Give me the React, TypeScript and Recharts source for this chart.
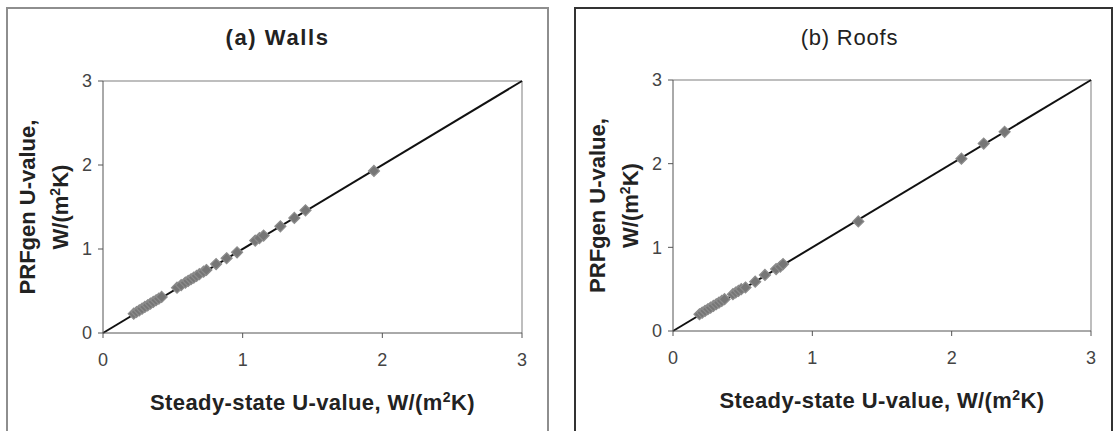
import React from 'react';
import {
  ScatterChart,
  Scatter,
  XAxis,
  YAxis,
  ReferenceLine,
  Label,
} from 'recharts';

// steady-state U-value (x) vs PRFgen U-value (y), W/(m2K)
const wallsSteady = [
  0.22, 0.24, 0.26, 0.28, 0.3, 0.32, 0.34, 0.36, 0.38, 0.4, 0.42, 0.53, 0.56,
  0.59, 0.61, 0.63, 0.65, 0.67, 0.69, 0.72, 0.74, 0.81, 0.885, 0.96, 1.09,
  1.12, 1.15, 1.27, 1.37, 1.45, 1.94,
];
const wallsPrf = [
  0.23, 0.25, 0.27, 0.29, 0.31, 0.33, 0.35, 0.37, 0.39, 0.41, 0.43, 0.54, 0.57,
  0.6, 0.62, 0.64, 0.66, 0.68, 0.7, 0.73, 0.75, 0.82, 0.89, 0.96, 1.1, 1.13,
  1.16, 1.27, 1.37, 1.46, 1.93,
];
const roofsSteady = [
  0.19, 0.21, 0.23, 0.25, 0.27, 0.29, 0.31, 0.33, 0.35, 0.37, 0.43, 0.45, 0.47,
  0.49, 0.52, 0.59, 0.66, 0.74, 0.77, 0.79, 1.33, 2.07, 2.23, 2.38,
];
const roofsPrf = [
  0.2, 0.22, 0.24, 0.26, 0.28, 0.3, 0.32, 0.34, 0.36, 0.38, 0.44, 0.46, 0.48,
  0.5, 0.52, 0.59, 0.67, 0.74, 0.77, 0.8, 1.31, 2.06, 2.24, 2.38,
];
const axisTicks = [0, 1, 2, 3];
const oneToOne = [0, 3];
const panelTitles = ['(a) Walls', '(b) Roofs'];

const toPoints = (xs: number[], ys: number[]) =>
  xs.map((x, i) => ({ x, y: ys[i] }));

const Diamond = (props: any) => {
  const { cx, cy } = props;
  const r = 5.5;
  return (
    <polygon
      points={`${cx},${cy - r} ${cx + r},${cy} ${cx},${cy + r} ${cx - r},${cy}`}
      fill="#767676"
      stroke="#8c8c8c"
      strokeWidth={1.2}
    />
  );
};

const XTitle = (props: any) => {
  const vb = props.viewBox;
  return (
    <text
      x={vb.x + vb.width / 2}
      y={vb.y + 77}
      textAnchor="middle"
      fontSize={22}
      fontWeight="bold"
      letterSpacing={0.4}
      fill="#222"
    >
      Steady-state U-value, W/(m
      <tspan dy={-8} fontSize={14}>
        2
      </tspan>
      <tspan dy={8}>K)</tspan>
    </text>
  );
};

const YTitle = (props: any) => {
  const vb = props.viewBox;
  const axisX = vb.x + vb.width;
  const cy = vb.y + vb.height / 2;
  return (
    <g fill="#222" fontSize={22} fontWeight="bold">
      <text
        transform={`translate(${axisX - 68},${cy}) rotate(-90)`}
        textAnchor="middle"
      >
        PRFgen U-value,
      </text>
      <text
        transform={`translate(${axisX - 35},${cy}) rotate(-90)`}
        textAnchor="middle"
      >
        W/(m
        <tspan dy={-8} fontSize={14}>
          2
        </tspan>
        <tspan dy={8}>K)</tspan>
      </text>
    </g>
  );
};

interface PanelProps {
  data: { x: number; y: number }[];
  left: number;
  width: number;
  margin: { top: number; right: number; bottom: number; left: number };
}

const Panel = ({ data, left, width, margin }: PanelProps) => (
  <div style={{ position: 'absolute', left, top: 0 }}>
    <ScatterChart width={width} height={431} margin={margin}>
      <XAxis
        type="number"
        dataKey="x"
        domain={[0, 3]}
        ticks={axisTicks}
        height={30}
        tickSize={5}
        tickMargin={15}
        stroke="#555"
        tick={{ fill: '#444', fontSize: 18 }}
      >
        <Label content={(p: any) => <XTitle viewBox={p.viewBox} />} />
      </XAxis>
      <YAxis
        type="number"
        dataKey="y"
        domain={[0, 3]}
        ticks={axisTicks}
        width={40}
        tickSize={5}
        tickMargin={6}
        stroke="#555"
        tick={{ fill: '#444', fontSize: 18 }}
      >
        <Label content={(p: any) => <YTitle viewBox={p.viewBox} />} />
      </YAxis>
      <ReferenceLine y={3} stroke="#a8a8a8" strokeWidth={1.5} />
      <ReferenceLine x={3} stroke="#a8a8a8" strokeWidth={1.5} />
      <ReferenceLine
        segment={[
          { x: oneToOne[0], y: oneToOne[0] },
          { x: oneToOne[1], y: oneToOne[1] },
        ]}
        stroke="#111"
        strokeWidth={2}
      />
      <Scatter data={data} shape={Diamond} isAnimationActive={false} />
    </ScatterChart>
  </div>
);

export default function App() {
  return (
    <div
      style={{
        position: 'absolute',
        left: 0,
        top: 0,
        width: 1115,
        height: 431,
        overflow: 'hidden',
        background: '#fff',
        fontFamily: '"Liberation Sans", Arial, sans-serif',
      }}
    >
      <div
        style={{
          position: 'absolute',
          left: 6,
          top: 7,
          width: 539,
          height: 460,
          border: '2px solid #8e8e8e',
        }}
      />
      <div
        style={{
          position: 'absolute',
          left: 574,
          top: 7,
          width: 535,
          height: 460,
          border: '2px solid #333',
        }}
      />
      <div
        style={{
          position: 'absolute',
          left: 6,
          width: 543,
          top: 25,
          textAlign: 'center',
          fontSize: 22,
          fontWeight: 'bold',
          letterSpacing: 1.6,
          color: '#222',
        }}
      >
        {panelTitles[0]}
      </div>
      <div
        style={{
          position: 'absolute',
          left: 580,
          width: 539,
          top: 25,
          textAlign: 'center',
          fontSize: 22,
          letterSpacing: 0.8,
          color: '#222',
        }}
      >
        {panelTitles[1]}
      </div>
      <Panel
        data={toPoints(wallsSteady, wallsPrf)}
        left={0}
        width={560}
        margin={{ top: 81, right: 38, bottom: 68, left: 63 }}
      />
      <Panel
        data={toPoints(roofsSteady, roofsPrf)}
        left={560}
        width={555}
        margin={{ top: 80, right: 24, bottom: 70, left: 73 }}
      />
    </div>
  );
}
